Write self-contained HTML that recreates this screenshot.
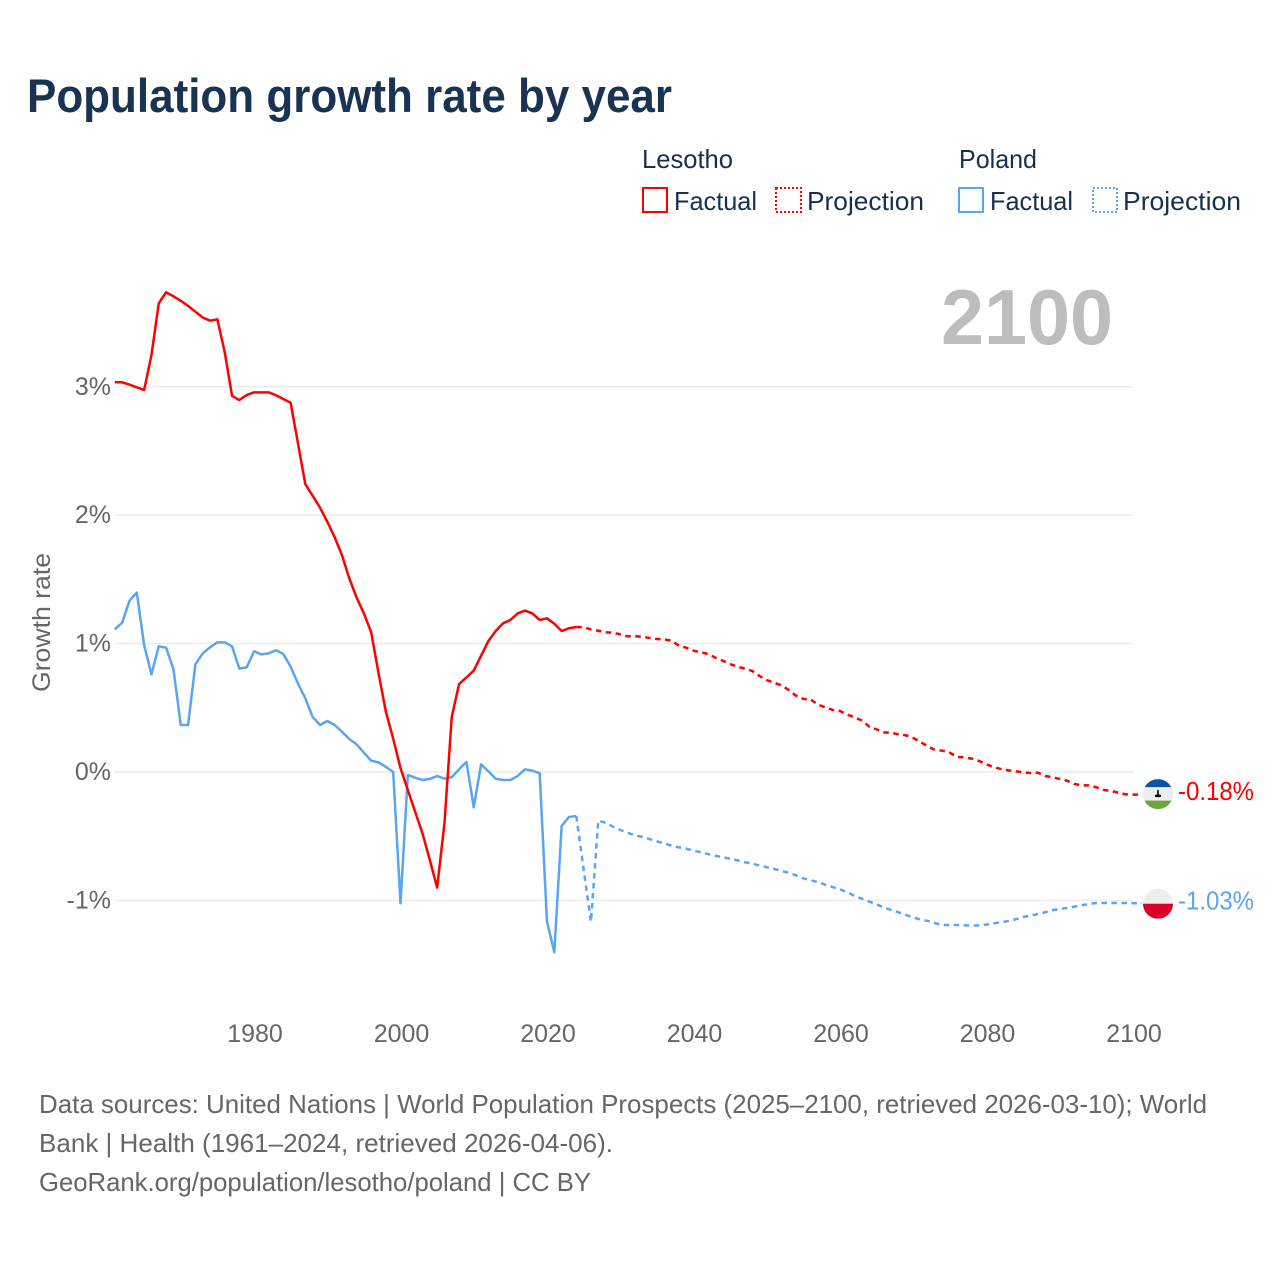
<!DOCTYPE html>
<html lang="en">
<head>
<meta charset="utf-8">
<title>Population growth rate by year</title>
<style>
html,body{margin:0;padding:0;background:#fff;}
svg{display:block;font-family:"Liberation Sans",sans-serif;}
</style>
</head>
<body>
<svg id="chart" width="1280" height="1280" viewBox="0 0 1280 1280" xmlns="http://www.w3.org/2000/svg">
  <rect width="1280" height="1280" fill="#fff"/>
  <text x="27" y="112" font-size="47" font-weight="700" fill="#1a3352" textLength="645" lengthAdjust="spacingAndGlyphs">Population growth rate by year</text>

  <g font-size="26" fill="#17304f">
    <text x="642" y="168" textLength="91" lengthAdjust="spacingAndGlyphs">Lesotho</text>
    <text x="959" y="168" textLength="78" lengthAdjust="spacingAndGlyphs">Poland</text>
    <rect x="643" y="188" width="24" height="24" fill="none" stroke="#ff0000" stroke-width="2"/>
    <text x="674" y="210" textLength="83" lengthAdjust="spacingAndGlyphs">Factual</text>
    <rect x="776" y="188" width="25" height="24" fill="none" stroke="#ff0000" stroke-width="2" stroke-dasharray="2 2"/>
    <text x="807" y="210" textLength="117" lengthAdjust="spacingAndGlyphs">Projection</text>
    <rect x="959" y="188" width="24" height="24" fill="none" stroke="#5aa5f0" stroke-width="2"/>
    <text x="990" y="210" textLength="83" lengthAdjust="spacingAndGlyphs">Factual</text>
    <rect x="1093" y="188" width="24" height="24" fill="none" stroke="#5aa5f0" stroke-width="2" stroke-dasharray="2 2"/>
    <text x="1123" y="210" textLength="118" lengthAdjust="spacingAndGlyphs">Projection</text>
  </g>

  <g id="grid"></g>
  <text x="941" y="344" font-size="78" font-weight="700" fill="#bdbdbd" textLength="172" lengthAdjust="spacingAndGlyphs">2100</text>
  <g id="yticks" font-size="25" fill="#666" text-anchor="end"></g>
  <g id="xticks" font-size="25" fill="#666" text-anchor="middle"></g>
  <text transform="translate(50,692) rotate(-90)" font-size="25" fill="#666" textLength="139" lengthAdjust="spacingAndGlyphs">Growth rate</text>
  <g id="series"></g>
  <g id="ends"></g>

  <g font-size="26" fill="#666">
    <text x="39" y="1113" textLength="1168" lengthAdjust="spacingAndGlyphs">Data sources: United Nations | World Population Prospects (2025–2100, retrieved 2026-03-10); World</text>
    <text x="39" y="1152" textLength="574" lengthAdjust="spacingAndGlyphs">Bank | Health (1961–2024, retrieved 2026-04-06).</text>
    <text x="39" y="1191" textLength="552" lengthAdjust="spacingAndGlyphs">GeoRank.org/population/lesotho/poland | CC BY</text>
  </g>
</svg>
<script>
const factualStartYear = 1961;
const projectionStartYear = 2024;
const xTickYears = [1980, 2000, 2020, 2040, 2060, 2080, 2100];
const yTickValues = [3, 2, 1, 0, -1];
const yTickLabels = ['3%', '2%', '1%', '0%', '-1%'];
const lesothoFactual = [
  3.035,3.035,3.017,2.996,2.975,
  3.247,3.65,3.736,3.705,3.67,
  3.63,3.585,3.54,3.515,3.525,
  3.27,2.93,2.897,2.936,2.957,
  2.957,2.957,2.934,2.905,2.876,
  2.56,2.243,2.152,2.06,1.95,
  1.83,1.69,1.51,1.36,1.236,
  1.088,0.77,0.47,0.26,0.03,
  -0.14,-0.31,-0.478,-0.685,-0.90,
  -0.40,0.43,0.685,0.737,0.79,
  0.906,1.02,1.098,1.158,1.184,
  1.235,1.257,1.235,1.184,1.197,
  1.155,1.098,1.119,1.129
];
const lesothoProjection = [
  1.129,1.127,1.11,1.10,1.088,1.085,
  1.072,1.057,1.057,1.054,1.044,1.036,1.033,1.023,0.984,0.968,
  0.945,0.932,0.919,0.89,0.867,0.841,0.82,0.805,0.787,0.748,
  0.716,0.695,0.675,0.639,0.594,0.569,0.566,0.524,0.504,0.483,
  0.475,0.446,0.426,0.40,0.353,0.332,0.309,0.306,0.293,0.286,
  0.265,0.234,0.197,0.171,0.166,0.15,0.117,0.114,0.104,0.086,
  0.06,0.037,0.023,0.013,0.005,-0.003,-0.008,-0.005,-0.031,-0.041,
  -0.054,-0.068,-0.093,-0.104,-0.104,-0.119,-0.14,-0.148,-0.161,-0.174,
  -0.176
];
const polandFactual = [
  1.111,1.163,1.334,1.397,0.989,
  0.761,0.979,0.968,0.802,0.366,
  0.366,0.839,0.924,0.971,1.01,
  1.01,0.979,0.805,0.815,0.94,
  0.916,0.924,0.948,0.919,0.82,
  0.69,0.574,0.43,0.366,0.397,
  0.366,0.314,0.257,0.216,0.15,
  0.088,0.075,0.04,0.0,-1.023,
  -0.023,-0.044,-0.062,-0.054,-0.031,
  -0.052,-0.041,0.021,0.078,-0.275,
  0.06,0.005,-0.052,-0.062,-0.062,
  -0.031,0.021,0.01,-0.01,-1.166,
  -1.404,-0.42,-0.35,-0.343
];
const polandProjection = [
  -0.343,-0.758,-1.166,-0.379,-0.395,-0.426,
  -0.452,-0.473,-0.493,-0.506,-0.522,-0.54,-0.555,-0.574,-0.587,-0.597,
  -0.613,-0.625,-0.639,-0.652,-0.664,-0.675,-0.688,-0.703,-0.714,-0.727,
  -0.742,-0.755,-0.771,-0.784,-0.805,-0.828,-0.843,-0.857,-0.878,-0.896,
  -0.914,-0.937,-0.966,-0.987,-1.01,-1.03,-1.056,-1.075,-1.093,-1.114,
  -1.132,-1.15,-1.16,-1.178,-1.192,-1.192,-1.192,-1.194,-1.197,-1.194,
  -1.189,-1.178,-1.171,-1.16,-1.147,-1.129,-1.119,-1.106,-1.093,-1.077,
  -1.067,-1.059,-1.049,-1.038,-1.028,-1.02,-1.02,-1.02,-1.02,-1.02,
  -1.022
];
const endLabels = ['-0.18%', '-1.03%'];

const NS = 'http://www.w3.org/2000/svg';
const RED = '#ff0000';
const BLUE = '#5aa5f0';
const xScale = function (year) { return 254 + (year - 1980) * 7.325; };
const yScale = function (value) { return 772 - value * 128.4; };
function make(tag, attrs, parent) {
  const el = document.createElementNS(NS, tag);
  Object.keys(attrs).forEach(function (k) { el.setAttribute(k, attrs[k]); });
  parent.appendChild(el);
  return el;
}
function pathFor(values, startYear, extra) {
  let d = values.map(function (v, i) {
    return (i ? 'L' : 'M') + xScale(startYear + i).toFixed(2) + ' ' + yScale(v).toFixed(2);
  }).join('');
  if (extra) {
    d += 'L' + (xScale(startYear + values.length - 1) + extra).toFixed(2) + ' ' + yScale(values[values.length - 1]).toFixed(2);
  }
  return d;
}

const gridG = document.getElementById('grid');
const yG = document.getElementById('yticks');
yTickValues.forEach(function (v, i) {
  const line = make('line', {x1: 115, x2: 1133, y1: yScale(v), y2: yScale(v), stroke: '#ececec', 'stroke-width': 1.5}, gridG);
  
  
  const t = make('text', {x: 111, y: yScale(v) + 8}, yG);
  t.textContent = yTickLabels[i];
  
  
});
const xG = document.getElementById('xticks');
xTickYears.forEach(function (yr) {
  const t = make('text', {x: xScale(yr) + 1, y: 1042}, xG);
  t.textContent = String(yr);
  
  
});

const seriesG = document.getElementById('series');
const lineBase = {fill: 'none', 'stroke-width': 2.5, 'stroke-linejoin': 'round'};

const pf = make('path', Object.assign({d: pathFor(polandFactual, factualStartYear), stroke: BLUE}, lineBase), seriesG);



const pp = make('path', Object.assign({d: pathFor(polandProjection, projectionStartYear, 9), stroke: BLUE, 'stroke-dasharray': '5.5 4.5'}, lineBase), seriesG);



const lf = make('path', Object.assign({d: pathFor(lesothoFactual, factualStartYear), stroke: RED}, lineBase), seriesG);



const lp = make('path', Object.assign({d: pathFor(lesothoProjection, projectionStartYear, 9), stroke: RED, 'stroke-dasharray': '5.5 4.5'}, lineBase), seriesG);



const endsG = document.getElementById('ends');
const fx = 1158;
const ly = yScale(lesothoProjection[lesothoProjection.length - 1]) - 0.5;
const py = yScale(polandProjection[polandProjection.length - 1]) + 0.5;

const defs = make('defs', {}, endsG);
const c1 = make('clipPath', {id: 'clip-ls'}, defs);
make('circle', {cx: fx, cy: ly, r: 15}, c1);
const c2 = make('clipPath', {id: 'clip-pl'}, defs);
make('circle', {cx: fx, cy: py, r: 15}, c2);

const flagL = make('g', {'clip-path': 'url(#clip-ls)'}, endsG);


make('rect', {x: fx - 15, y: ly - 15, width: 30, height: 30, fill: '#eeeeee'}, flagL);
make('rect', {x: fx - 15, y: ly - 15, width: 30, height: 8, fill: '#0a52a8'}, flagL);
make('rect', {x: fx - 15, y: ly + 6.5, width: 30, height: 9, fill: '#6da544'}, flagL);
make('rect', {x: fx - 0.8, y: ly - 4, width: 1.6, height: 6, fill: '#000'}, flagL);
make('rect', {x: fx - 3, y: ly + 0.5, width: 6, height: 2.5, rx: 1, fill: '#000'}, flagL);

const flagP = make('g', {'clip-path': 'url(#clip-pl)'}, endsG);


make('rect', {x: fx - 15, y: py - 15, width: 30, height: 15, fill: '#eeeeee'}, flagP);
make('rect', {x: fx - 15, y: py, width: 30, height: 15, fill: '#d80027'}, flagP);

const tl = make('text', {x: 1178, y: ly + 6, 'font-size': 26, fill: RED, textLength: 76, lengthAdjust: 'spacingAndGlyphs'}, endsG);
tl.textContent = endLabels[0];



const tp = make('text', {x: 1178, y: py + 6, 'font-size': 26, fill: BLUE, textLength: 76, lengthAdjust: 'spacingAndGlyphs'}, endsG);
tp.textContent = endLabels[1];


</script>
</body>
</html>
